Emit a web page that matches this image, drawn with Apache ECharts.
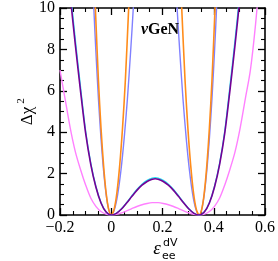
<!DOCTYPE html>
<html><head><meta charset="utf-8">
<script src="https://cdn.jsdelivr.net/npm/echarts@6/dist/echarts.min.js"></script>
<style>html,body{margin:0;padding:0;background:#fff}#c{width:278px;height:261px}</style>
</head><body><div id="c"></div>
<script>
// ---- data ----
const xTicks = [-0.2, 0, 0.2, 0.4, 0.6];
const yTicks = [0, 2, 4, 6, 8, 10];

const purpleX = [-0.2,-0.18,-0.16,-0.14,-0.12,-0.1,-0.08,-0.06,-0.04,-0.02,0,0.02,0.04,0.06,0.08,0.1,0.12,0.14,0.16,0.1715,0.183,0.203,0.223,0.243,0.263,0.283,0.303,0.323,0.343,0.363,0.383,0.403,0.423,0.443,0.463,0.483,0.503,0.523,0.543];
const purpleY = [16.3,13.3,10.6,8.2,6.0,3.95,2.45,1.35,0.58,0.14,0,0.08,0.29,0.58,0.89,1.19,1.44,1.62,1.73,1.75,1.73,1.62,1.44,1.19,0.89,0.58,0.29,0.08,0,0.14,0.58,1.35,2.45,3.95,6.0,8.2,10.6,13.3,16.3];

const cyanX = purpleX;
const cyanY = [16.8,13.7,10.9,8.45,6.2,4.07,2.52,1.39,0.6,0.145,0,0.083,0.3,0.6,0.92,1.23,1.49,1.67,1.78,1.8,1.78,1.67,1.49,1.23,0.92,0.6,0.3,0.083,0,0.145,0.6,1.39,2.52,4.07,6.2,8.45,10.9,13.7,16.8];

const pinkX = [-0.2,-0.18,-0.16,-0.14,-0.12,-0.1,-0.08,-0.06,-0.04,-0.02,0,0.02,0.04,0.06,0.08,0.1,0.12,0.14,0.16,0.1715,0.183,0.203,0.223,0.243,0.263,0.283,0.303,0.323,0.343,0.363,0.383,0.403,0.423,0.443,0.463,0.483,0.503,0.523,0.543,0.563,0.583,0.6];
const pinkY = [7.0,5.6,4.2,3.05,2.2,1.45,0.82,0.42,0.17,0.04,0,0.03,0.1,0.2,0.307,0.41,0.496,0.558,0.597,0.6,0.597,0.558,0.496,0.41,0.307,0.2,0.1,0.03,0,0.04,0.17,0.42,0.82,1.45,2.2,3.05,4.2,5.6,7.0,9.2,12,14.5];

const blueLeftX = [-0.076,-0.068,-0.06,-0.05,-0.04,-0.03,-0.02,-0.01,0,0.0126,0.0252,0.0378,0.0504,0.063,0.0756,0.086,0.096];
const blueLeftY = [12.6,10,7.9,5.6,3.7,2.15,1.0,0.27,0,0.27,1.0,2.15,3.7,5.6,7.9,10,12.6];
const blueRightX = [0.247,0.257,0.2674,0.28,0.2926,0.3052,0.3178,0.3304,0.343,0.353,0.363,0.373,0.383,0.393,0.403,0.411,0.419];
const blueRightY = [12.6,10,7.9,5.6,3.7,2.15,1.0,0.27,0,0.27,1.0,2.15,3.7,5.6,7.9,10,12.6];

const orangeLeftX = [-0.07,-0.062,-0.05,-0.04,-0.03,-0.02,-0.01,0,0.011,0.022,0.033,0.044,0.055,0.068,0.077];
const orangeLeftY = [12.6,10,6.5,4.2,2.4,1.07,0.27,0,0.27,1.07,2.4,4.2,6.5,10,12.6];
const orangeRightX = [0.266,0.275,0.288,0.299,0.31,0.321,0.332,0.343,0.353,0.363,0.373,0.383,0.393,0.405,0.413];
const orangeRightY = [12.6,10,6.5,4.2,2.4,1.07,0.27,0,0.27,1.07,2.4,4.2,6.5,10,12.6];

const zip = (xs, ys) => xs.map((x, i) => [x, ys[i]]);
const SERIF = 'Liberation Serif';
const fmt = v => (v < 0 ? '\u2212' + Math.abs(v) : String(v));

function axisCommon(labels) {
  return {
    axisLine: {show: true, onZero: false, lineStyle: {color: '#000', width: 1.6}},
    axisTick: {show: true, inside: true, length: 7, lineStyle: {color: '#000', width: 1.3}},
    minorTick: {show: true, splitNumber: 4, length: 4, lineStyle: {color: '#000', width: 1.1}},
    splitLine: {show: false}, minorSplitLine: {show: false},
    axisLabel: {show: labels, color: '#000', fontFamily: SERIF, fontSize: 16, formatter: fmt, margin: 5}
  };
}

const chart = echarts.init(document.getElementById('c'), null, {renderer: 'canvas'});
const lineSeries = (xs, ys, color, w, z) => ({
  type: 'line', data: zip(xs, ys), showSymbol: false, symbol: 'none', smooth: 0.3,
  clip: true, lineStyle: {color, width: w}, z, animation: false
});
chart.setOption({
  animation: false,
  grid: {left: 60, right: 10, top: 7, bottom: 46},
  xAxis: [
    Object.assign({type: 'value', min: xTicks[0], max: xTicks[xTicks.length-1], interval: 0.2, position: 'bottom'}, axisCommon(true)),
    Object.assign({type: 'value', min: xTicks[0], max: xTicks[xTicks.length-1], interval: 0.2, position: 'top'}, axisCommon(false))
  ],
  yAxis: [
    Object.assign({type: 'value', min: yTicks[0], max: yTicks[yTicks.length-1], interval: 2, position: 'left'}, axisCommon(true)),
    Object.assign({type: 'value', min: yTicks[0], max: yTicks[yTicks.length-1], interval: 2, position: 'right'}, axisCommon(false))
  ],
  series: [
    lineSeries(pinkX, pinkY, '#ff80ff', 1.4, 2),
    lineSeries(blueLeftX, blueLeftY, '#8080ff', 1.4, 3),
    lineSeries(blueRightX, blueRightY, '#8080ff', 1.4, 3),
    lineSeries(orangeLeftX, orangeLeftY, '#ff8c1a', 1.6, 4),
    lineSeries(orangeRightX, orangeRightY, '#ff8c1a', 1.6, 4),
    lineSeries(cyanX, cyanY, '#20e0f0', 1.3, 5),
    lineSeries(purpleX, purpleY, '#750095', 1.6, 6)
  ],
  graphic: [
    {type: 'text', x: 160, y: 30, z: 100, style: {
      text: '{n|\u03bd}{g|GeN}', align: 'center', verticalAlign: 'middle',
      rich: {n: {fontFamily: SERIF, fontSize: 16, fontWeight: 'bold', fontStyle: 'italic', fill: '#000'},
             g: {fontFamily: SERIF, fontSize: 16, fontWeight: 'bold', fill: '#000'}}}},
    {type: 'text', x: 28, y: 116, rotation: Math.PI / 2, z: 100, style: {
      text: '\u0394\u03c7', font: '17px "Liberation Serif"', fill: '#000', align: 'center', verticalAlign: 'middle'}},
    {type: 'text', x: 21, y: 101, rotation: Math.PI / 2, z: 100, style: {
      text: '2', font: '11px "Liberation Serif"', fill: '#000', align: 'center', verticalAlign: 'middle'}},
    {type: 'text', x: 157, y: 249, z: 100, style: {
      text: '\u03b5', font: 'italic 19px "Liberation Serif"', fill: '#000', align: 'center', verticalAlign: 'middle'}},
    {type: 'text', x: 163, y: 243, z: 100, style: {
      text: 'dV', font: '11px "DejaVu Sans"', fill: '#000', align: 'left', verticalAlign: 'middle'}},
    {type: 'text', x: 162, y: 256, z: 100, style: {
      text: 'ee', font: '11px "DejaVu Sans"', fill: '#000', align: 'left', verticalAlign: 'middle'}}
  ]
});
</script></body></html>
